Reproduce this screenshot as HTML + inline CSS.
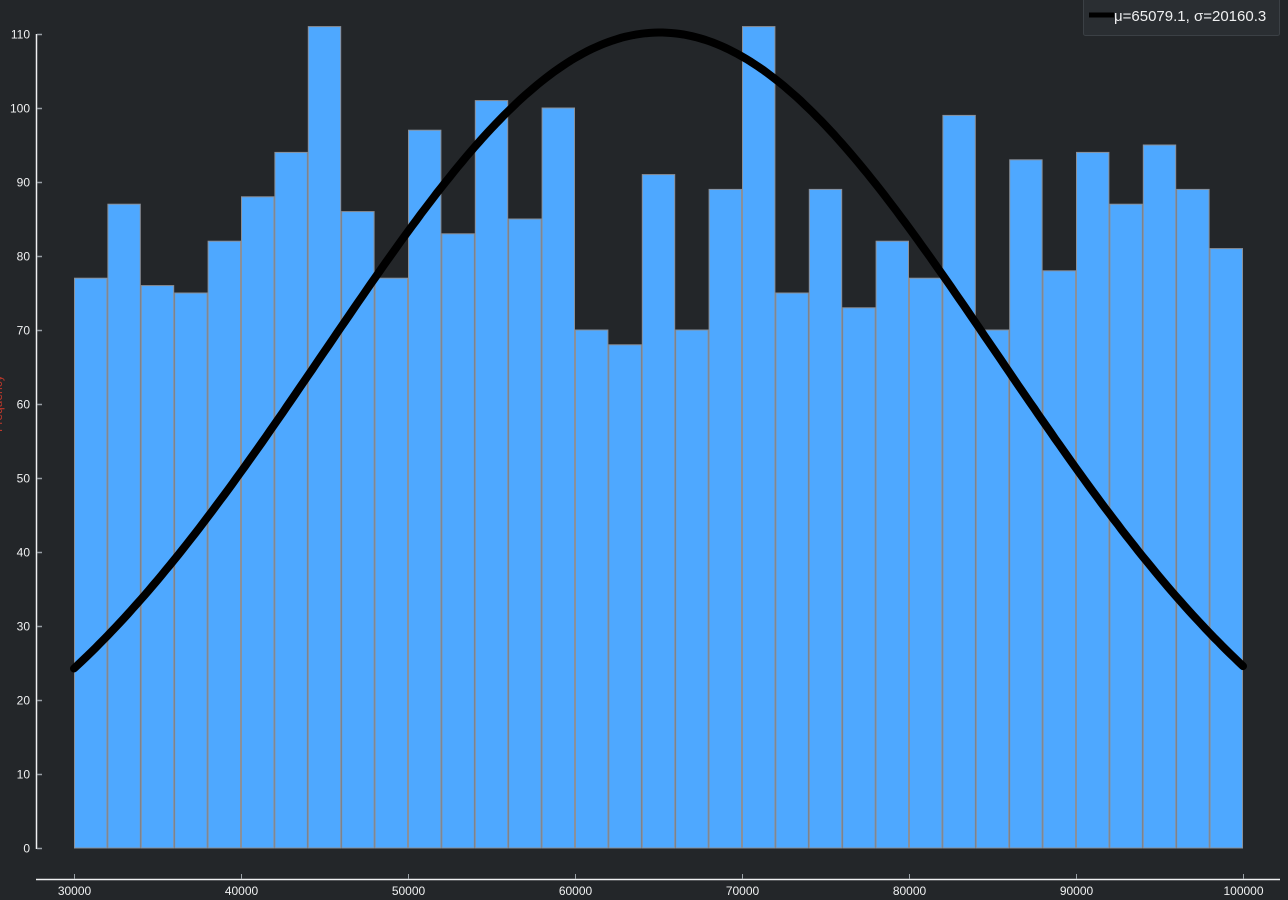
<!DOCTYPE html>
<html><head><meta charset="utf-8"><style>
html,body{margin:0;padding:0;background:#232629;width:1288px;height:900px;overflow:hidden}
svg text{font-family:"Liberation Sans","DejaVu Sans",sans-serif}
</style></head><body>
<svg id="chart" width="1288" height="900" xmlns="http://www.w3.org/2000/svg">
<rect width="1288" height="900" fill="#232629"/>
<g id="bars"></g>
<g id="axes"></g>
<path id="curve" fill="none" stroke="#000" stroke-width="8" stroke-linecap="round"/>
<text x="-20" y="410" transform="rotate(-90 2 410)" fill="#c0392b" font-size="12">Frequency</text>
<g>
<rect x="1083.5" y="-2" width="196" height="37.5" rx="2" fill="#2a2e32" stroke="#3b4045"/>
<line x1="1089" y1="15" x2="1114" y2="15" stroke="#000" stroke-width="5"/>
<text x="1114" y="21" fill="#eff0f1" font-size="15">μ=65079.1, σ=20160.3</text>
</g>
</svg>
<script>
const binStarts=[30000,32000,34000,36000,38000,40000,42000,44000,46000,48000,50000,52000,54000,56000,58000,60000,62000,64000,66000,68000,70000,72000,74000,76000,78000,80000,82000,84000,86000,88000,90000,92000,94000,96000,98000];
const counts=[77,87,76,75,82,88,94,111,86,77,97,83,101,85,100,70,68,91,70,89,111,75,89,73,82,77,99,70,93,78,94,87,95,89,81];
const binWidth=2000;
const yTicks=[0,10,20,30,40,50,60,70,80,90,100,110];
const xTicks=[30000,40000,50000,60000,70000,80000,90000,100000];
const fitMu=65079.1, fitSigma=20160.3, fitPeak=110.2;
const NS='http://www.w3.org/2000/svg';
const xs=v=>74+(v-30000)*(1243-74)/70000;
const ys=v=>848-v*(848-34)/110;
const bars=document.getElementById('bars');
counts.forEach((c,i)=>{
 const r=document.createElementNS(NS,'rect');
 const x0=xs(binStarts[i]),x1=xs(binStarts[i]+binWidth);
 r.setAttribute('x',x0+0.5);r.setAttribute('y',ys(c));
 r.setAttribute('width',x1-x0-1);r.setAttribute('height',ys(0)-ys(c));
 r.setAttribute('fill','#4ea8ff');r.setAttribute('stroke','#8a9099');r.setAttribute('stroke-width','1');
 
 
 bars.appendChild(r);
});
const ax=document.getElementById('axes');
function line(x1,y1,x2,y2,col,w,name){const l=document.createElementNS(NS,'line');l.setAttribute('x1',x1);l.setAttribute('y1',y1);l.setAttribute('x2',x2);l.setAttribute('y2',y2);l.setAttribute('stroke',col);l.setAttribute('stroke-width',w);


ax.appendChild(l);}
function text(x,y,s,anchor,name){const t=document.createElementNS(NS,'text');t.setAttribute('x',x);t.setAttribute('y',y);t.setAttribute('fill','#eff0f1');t.setAttribute('font-size','12');t.setAttribute('text-anchor',anchor);t.textContent=s;


ax.appendChild(t);}
line(36.5,34,36.5,849,'#eff0f1',1.5,'y-axis-line');
yTicks.forEach(v=>{const y=Math.round(ys(v))+0.5;line(37,y,42,y,'#9aa0a6',1.5,'y-tick');text(30,y+4,String(v),'end','y-tick-label');});
line(36,879.5,1280,879.5,'#eff0f1',1.5,'x-axis-line');
xTicks.forEach(v=>{const x=Math.round(xs(v))+0.5;line(x,874,x,879,'#9aa0a6',1,'x-tick');text(x,895,String(v),'middle','x-tick-label');});
let d='';
for(let v=30000;v<=100000;v+=250){const g=fitPeak*Math.exp(-0.5*Math.pow((v-fitMu)/fitSigma,2));d+=(d?'L':'M')+xs(v).toFixed(1)+','+ys(g).toFixed(1);}
document.getElementById('curve').setAttribute('d',d);
</script>
</body></html>
